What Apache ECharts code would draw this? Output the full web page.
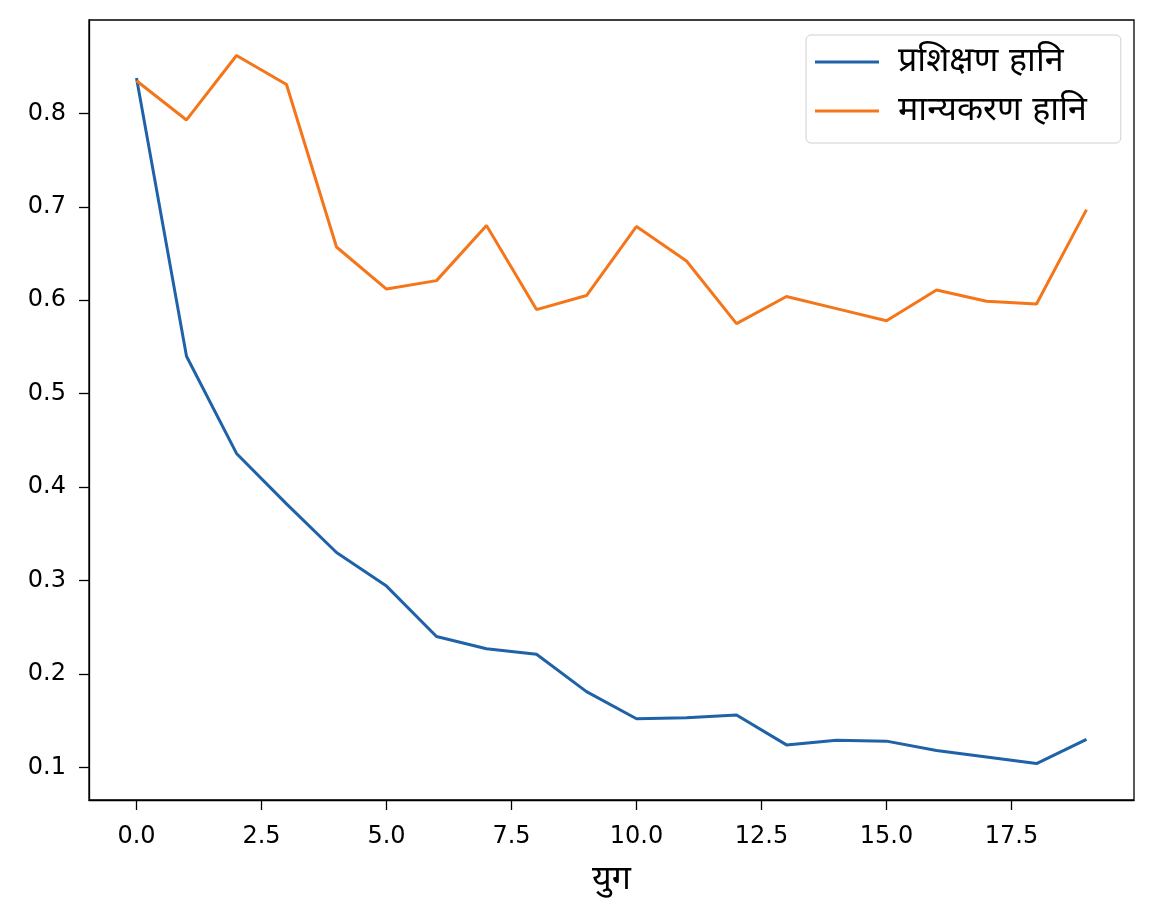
<!DOCTYPE html>
<html>
<head>
<meta charset="utf-8">
<script src="https://cdn.jsdelivr.net/npm/echarts@6/dist/echarts.min.js"></script>
<style>
  html, body { margin: 0; padding: 0; background: #fff; }
  #main { width: 1155px; height: 912px; }
</style>
</head>
<body>
<div id="main"></div>
<script>
    // epochs 0..19
    var epochs = [0, 1, 2, 3, 4, 5, 6, 7, 8, 9, 10, 11, 12, 13, 14, 15, 16, 17, 18, 19];
    var trainLoss = [0.838, 0.540, 0.436, 0.382, 0.330, 0.294, 0.240, 0.227, 0.221, 0.181,
                     0.152, 0.153, 0.156, 0.124, 0.129, 0.128, 0.118, 0.111, 0.104, 0.130];
    var valLoss = [0.835, 0.793, 0.862, 0.831, 0.657, 0.612, 0.621, 0.680, 0.590, 0.605,
                   0.679, 0.642, 0.575, 0.604, 0.591, 0.578, 0.611, 0.599, 0.596, 0.697];
    var xTicks = [0, 2.5, 5, 7.5, 10, 12.5, 15, 17.5];
    var yTicks = [0.1, 0.2, 0.3, 0.4, 0.5, 0.6, 0.7, 0.8];
    var seriesNames = ['प्रशिक्षण हानि', 'मान्यकरण हानि'];

    var myChart = echarts.init(document.getElementById('main'));

    function pairs(vals) {
        var out = [];
        for (var i = 0; i < epochs.length; i++) {
            out.push([epochs[i], vals[i]]);
        }
        return out;
    }

    var fontMain = 'DejaVu Sans, Noto Sans, sans-serif';

    var option = {
        backgroundColor: '#fff',
        animation: false,
        grid: {
            left: 89, top: 20, width: 1045, height: 780,
            show: true, borderColor: '#000', borderWidth: 1.3,
            containLabel: false
        },
        legend: {
            orient: 'vertical',
            left: 806, top: 35,
            data: seriesNames,
            icon: 'rect',
            itemWidth: 64,
            itemHeight: 3,
            itemGap: 13,
            padding: [9, 34, 14, 9],
            borderColor: '#d0d0d0',
            borderWidth: 1,
            borderRadius: 5,
            textStyle: {
                fontSize: 34,
                color: '#000',
                fontFamily: fontMain,
                lineHeight: 36,
                padding: [0, 0, 0, 14]
            }
        },
        xAxis: {
            type: 'value',
            min: -0.95, max: 19.95,
            name: 'युग',
            nameLocation: 'middle',
            nameGap: 63,
            nameTextStyle: { fontSize: 34, color: '#000', fontFamily: fontMain },
            splitLine: { show: false },
            axisLine: { show: true, onZero: false, lineStyle: { color: '#000', width: 1.3 } },
            axisTick: { show: true, customValues: xTicks, length: 10, lineStyle: { color: '#000', width: 1.3 } },
            axisLabel: {
                customValues: xTicks,
                margin: 25,
                fontSize: 24,
                color: '#000',
                fontFamily: fontMain,
                formatter: function (v) { return v.toFixed(1); }
            }
        },
        yAxis: {
            type: 'value',
            min: 0.065, max: 0.9,
            splitLine: { show: false },
            axisLine: { show: true, onZero: false, lineStyle: { color: '#000', width: 1.3 } },
            axisTick: { show: true, customValues: yTicks, length: 10, lineStyle: { color: '#000', width: 1.3 } },
            axisLabel: {
                customValues: yTicks,
                margin: 23,
                fontSize: 24,
                color: '#000',
                fontFamily: fontMain,
                formatter: function (v) { return v.toFixed(1); }
            }
        },
        series: [
            {
                name: seriesNames[0],
                type: 'line',
                data: pairs(trainLoss),
                showSymbol: false,
                symbol: 'none',
                color: '#1f62a8',
                lineStyle: { width: 3, color: '#1f62a8' }
            },
            {
                name: seriesNames[1],
                type: 'line',
                data: pairs(valLoss),
                showSymbol: false,
                symbol: 'none',
                color: '#f5761a',
                lineStyle: { width: 3, color: '#f5761a' }
            }
        ]
    };

    myChart.setOption(option);
</script>
</body>
</html>
